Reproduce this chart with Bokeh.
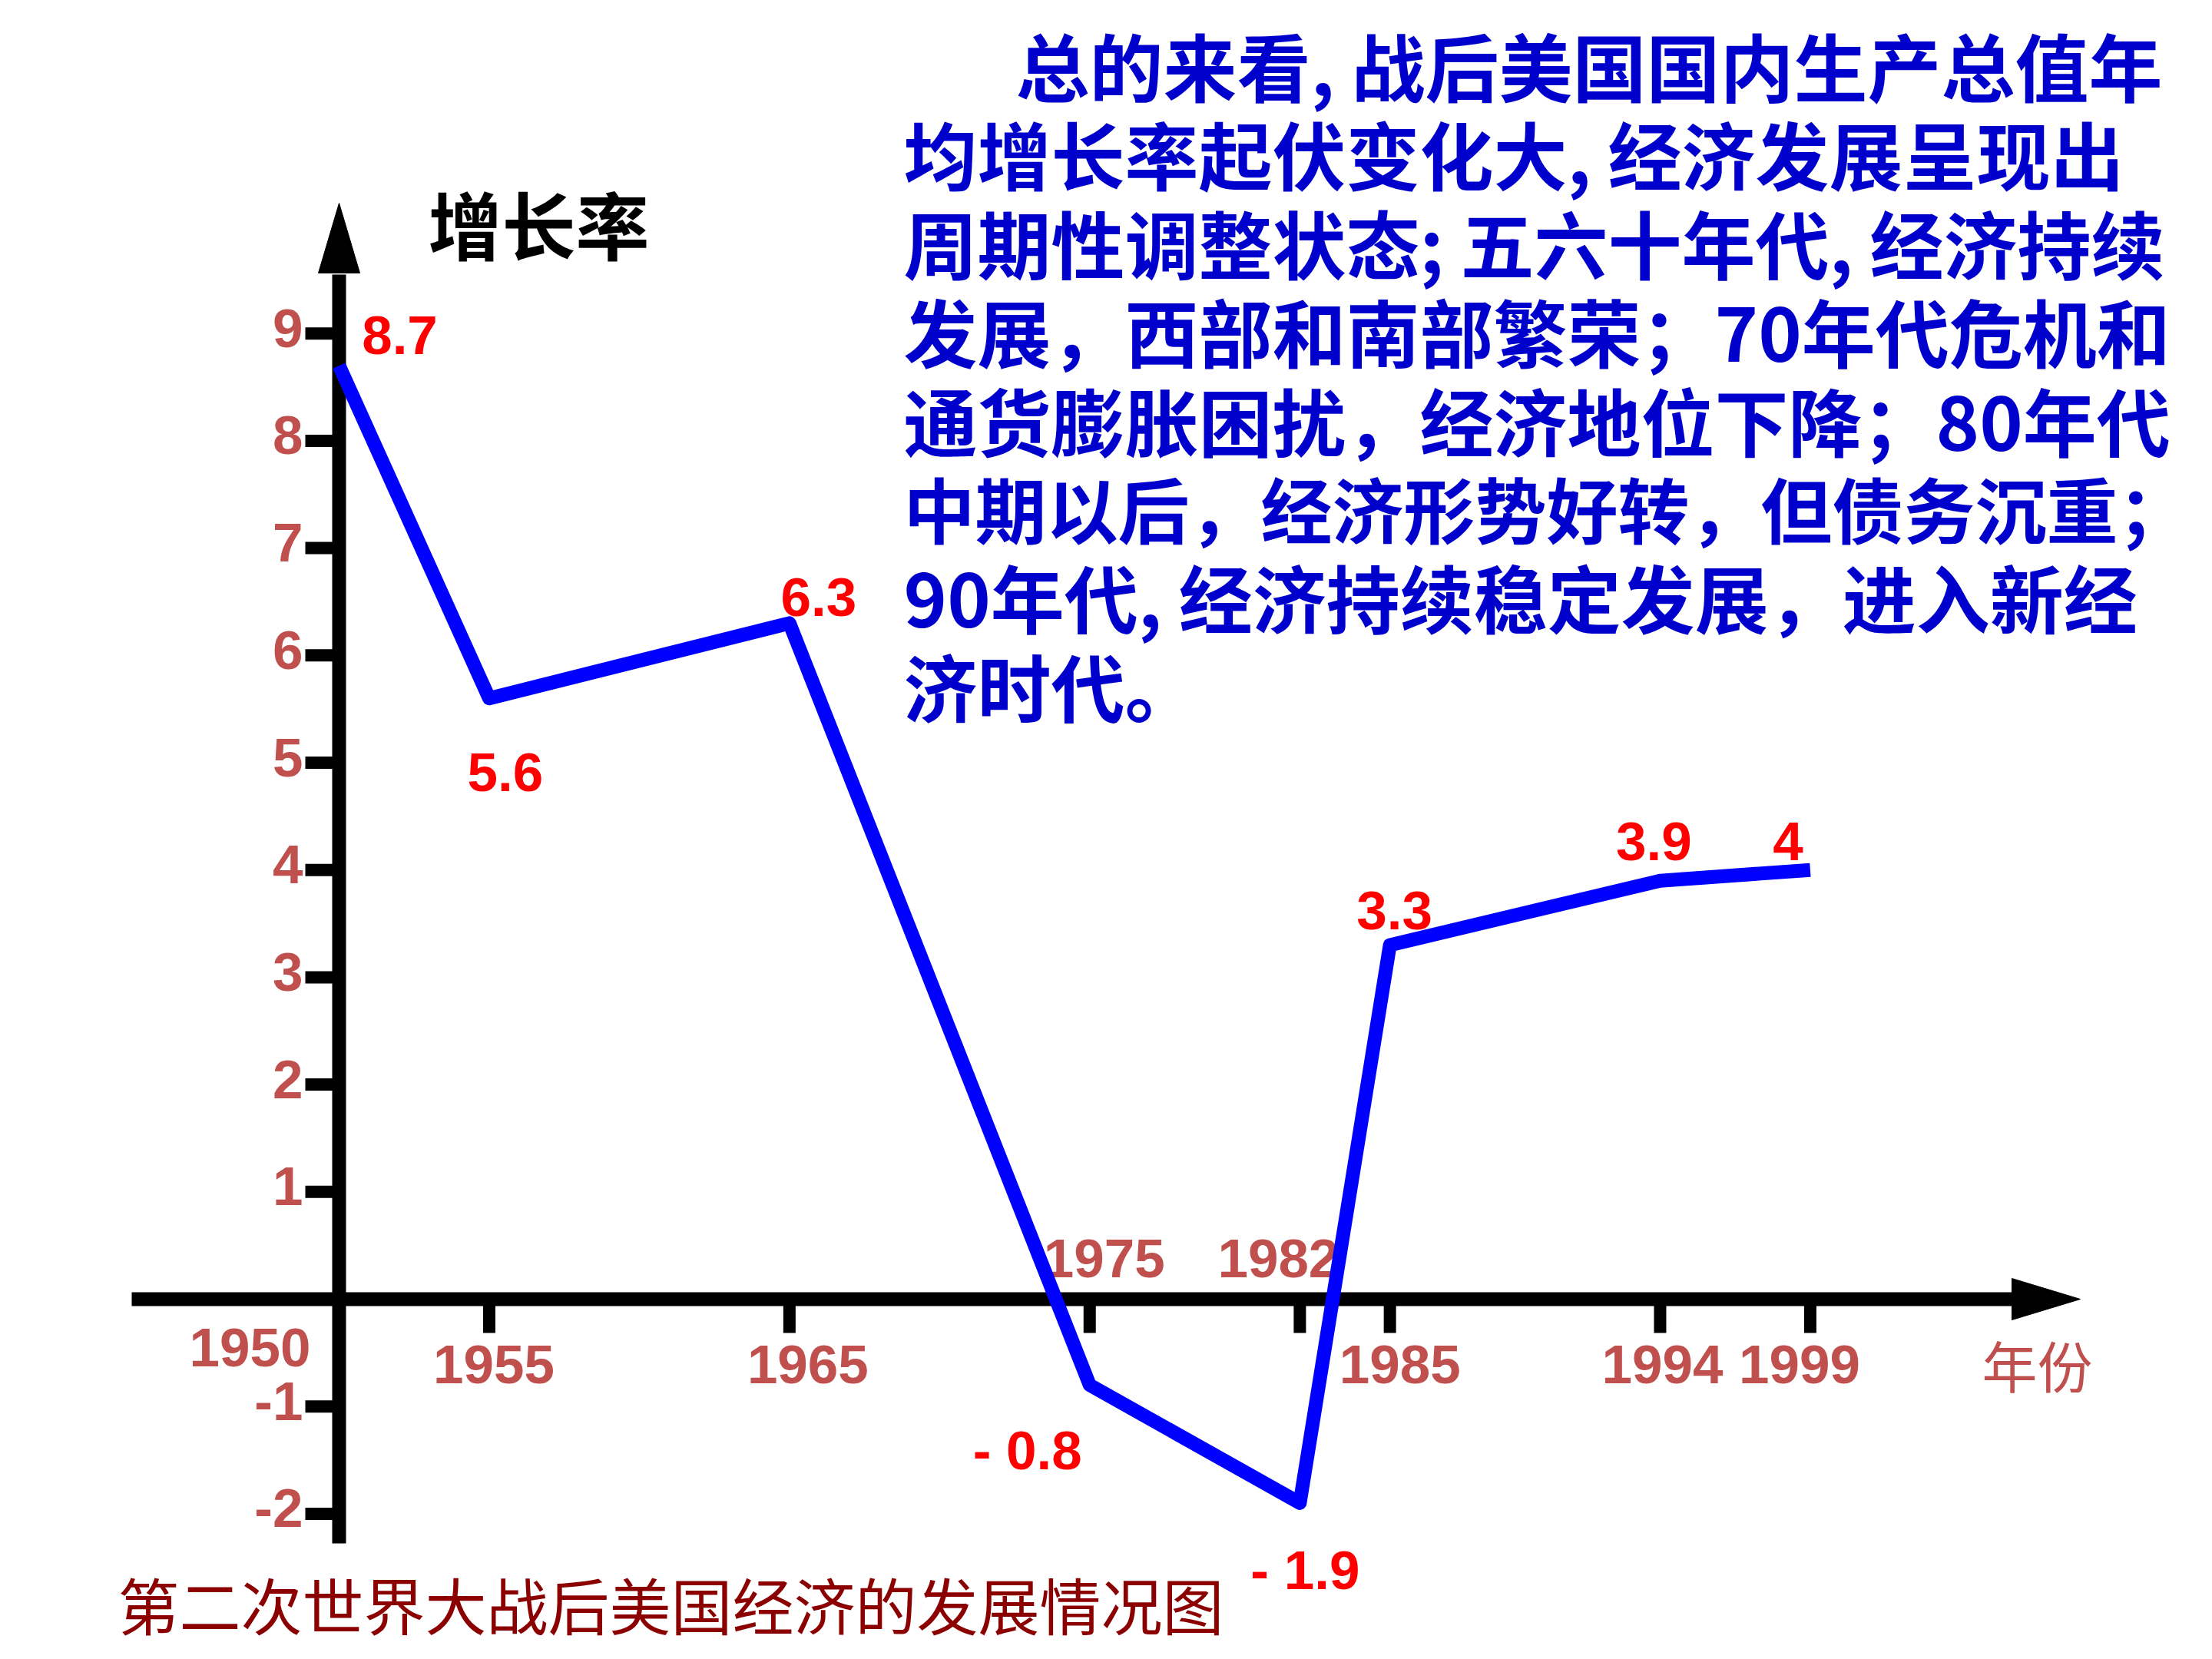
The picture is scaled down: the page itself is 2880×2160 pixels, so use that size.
from bokeh.plotting import figure
from bokeh.models import Range1d, ColumnDataSource
from bokeh.core.properties import value
from bokeh.embed import file_html
from bokeh.resources import INLINE

# ---------------- data ----------------
years = [1950, 1955, 1965, 1975, 1982, 1985, 1994, 1999]
growth = [8.7, 5.6, 6.3, -0.8, -1.9, 3.3, 3.9, 4.0]
point_labels = ["8.7", "5.6", "6.3", "- 0.8", "- 1.9", "3.3", "3.9", "4"]

year_labels = ["1950", "1955", "1965", "1975", "1982", "1985", "1994", "1999"]
x_tick_years = [1955, 1965, 1975, 1982, 1985, 1994, 1999]
y_ticks = [9, 8, 7, 6, 5, 4, 3, 2, 1, -1, -2]
y_tick_labels = ["9", "8", "7", "6", "5", "4", "3", "2", "1", "-1", "-2"]

y_title = "增长率"
x_title = "年份"
caption = "第二次世界大战后美国经济的发展情况图"
paragraph = [
    "总的来看, 战后美国国内生产总值年",
    "均增长率起伏变化大, 经济发展呈现出",
    "周期性调整状态; 五六十年代, 经济持续",
    "发展，西部和南部繁荣；70年代危机和",
    "通货膨胀困扰，经济地位下降；80年代",
    "中期以后，经济形势好转，但债务沉重；",
    "90年代, 经济持续稳定发展，进入新经",
    "济时代。",
]

# ---------------- layout (pixels) ----------------
W, H = 2864, 2144
PX_PER_YEAR = 39.09
PX_PER_UNIT = 139.7
ORIGIN_X, ORIGIN_Y = 441, 1691      # canvas pixel of (1950, 0)
X0 = 1950

def dx(px):
    return px / PX_PER_YEAR

def dy(px):          # screen pixels downward -> data units
    return -px / PX_PER_UNIT

def data_x(cx):
    return X0 + (cx - ORIGIN_X) / PX_PER_YEAR

def data_y(cy):
    return (ORIGIN_Y - cy) / PX_PER_UNIT

p = figure(width=W, height=H, output_backend="svg", toolbar_location=None,
           x_range=Range1d(data_x(0), data_x(W)),
           y_range=Range1d(data_y(H), data_y(0)),
           x_axis_location=None, y_axis_location=None,
           min_border=0, outline_line_color=None, background_fill_color="white",
           border_fill_color="white")
p.grid.grid_line_color = None

BLACK = "#000000"
AXIS_W = 18
TICK_W = 16
TICK_LEN = 44

# x axis line + arrow head
xa_left, xa_base, xa_tip = data_x(171), data_x(2619), data_x(2708)
p.segment(x0=[xa_left], y0=[0], x1=[xa_base + dx(2)], y1=[0], line_width=AXIS_W,
          line_color=BLACK, line_cap="butt")
p.patch(x=[xa_base, xa_tip, xa_base], y=[dy(-27), 0, dy(27)],
        fill_color=BLACK, line_color=BLACK, line_width=1)

# y axis line + arrow head
ya_bottom, ya_base, ya_tip = data_y(2009), data_y(355), data_y(264)
p.segment(x0=[X0], y0=[ya_bottom], x1=[X0], y1=[ya_base + dy(2)], line_width=AXIS_W,
          line_color=BLACK, line_cap="butt")
p.patch(x=[X0 - dx(27), X0, X0 + dx(27)], y=[ya_base, ya_tip, ya_base],
        fill_color=BLACK, line_color=BLACK, line_width=1)

# ticks
p.segment(x0=x_tick_years, y0=[0] * len(x_tick_years),
          x1=x_tick_years, y1=[dy(TICK_LEN)] * len(x_tick_years),
          line_width=TICK_W, line_color=BLACK, line_cap="butt")
p.segment(x0=[X0] * len(y_ticks), y0=y_ticks,
          x1=[X0 - dx(TICK_LEN)] * len(y_ticks), y1=y_ticks,
          line_width=TICK_W, line_color=BLACK, line_cap="butt")

TICK_COLOR = "#C0504D"
NUM_FONT = value("Liberation Sans")
CJK = value("Noto Sans CJK SC")

# y tick labels
p.text(x=[X0 - dx(47)] * len(y_ticks), y=[t + dy(-7) for t in y_ticks], text=y_tick_labels,
       text_font=NUM_FONT, text_font_size=value("71px"), text_font_style="bold",
       text_color=TICK_COLOR, text_align="right", text_baseline="middle")

# x (year) labels: per-label pixel offsets from (year, 0)
year_lab_off = [(-116, 63), (6, 85), (24, 85), (19, -53), (-28, -53), (13, 85), (3, 85), (-14, 85)]
yl_x = [int(l) + dx(o[0]) for l, o in zip(year_labels, year_lab_off)]
yl_y = [dy(o[1]) for o in year_lab_off]
p.text(x=yl_x, y=yl_y, text=year_labels,
       text_font=NUM_FONT, text_font_size=value("71px"), text_font_style="bold",
       text_color=TICK_COLOR, text_align="center", text_baseline="middle")

# axis titles
p.text(x=[data_x(2652)], y=[data_y(1775)], text=[x_title], text_font=CJK,
       text_font_size=value("72px"), text_font_style="normal",
       text_color=TICK_COLOR, text_align="center", text_baseline="middle")
p.text(x=[data_x(701)], y=[data_y(289)], text=[y_title], text_font=CJK,
       text_font_size=value("96px"), text_font_style="bold",
       text_color=BLACK, text_align="center", text_baseline="middle")

# data line
src = ColumnDataSource(dict(year=years, growth=growth))
p.line(x="year", y="growth", source=src, line_width=18, line_color="#0000FF",
       line_join="round", line_cap="butt")

# point labels
pt_off = [(79, -40), (21, 96), (38, -34), (-81, 85), (7, 88), (6, -45), (-8, -51), (-29, -37)]
p.text(x=[yr + dx(o[0]) for yr, o in zip(years, pt_off)],
       y=[g + dy(o[1]) for g, o in zip(growth, pt_off)],
       text=point_labels, text_font=NUM_FONT, text_font_size=value("71px"),
       text_font_style="bold", text_color="#FF0000",
       text_align="center", text_baseline="middle")

# paragraph
para_left, para_indent, para_top, para_step = 1176, 146, 83, 115.4
para_sizes = ["96px", "96px", "96px", "96px", "96px", "93px", "96px", "96px"]
para_src = ColumnDataSource(dict(
    x=[data_x(para_left + (para_indent if i == 0 else 0)) for i in range(len(paragraph))],
    y=[data_y(para_top + i * para_step) for i in range(len(paragraph))],
    text=paragraph, size=para_sizes))
p.text(x="x", y="y", text="text", source=para_src, text_font=CJK, text_font_size="size",
       text_font_style="bold", text_color="#0000CC",
       text_align="left", text_baseline="middle")

# caption
p.text(x=[data_x(153)], y=[data_y(2086)], text=[caption], text_font=CJK,
       text_font_size=value("80px"), text_font_style="normal", text_color="#8B0000",
       text_align="left", text_baseline="middle")

open("out.html", "w").write(file_html(p, INLINE))
